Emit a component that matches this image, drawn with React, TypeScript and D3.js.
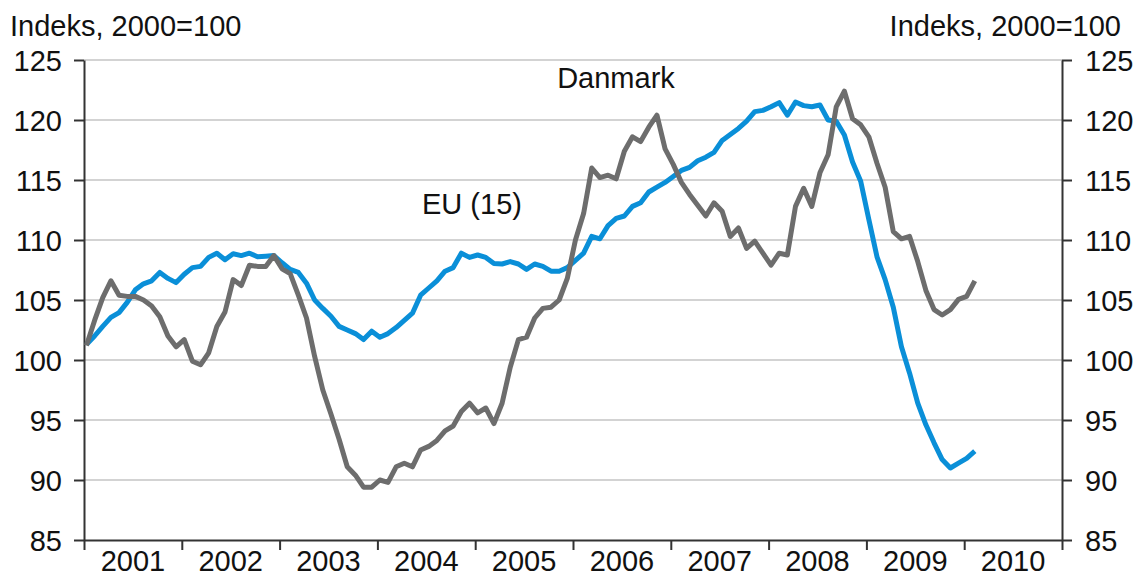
import React, { useEffect, useRef } from "react";
import * as d3 from "d3";

// Monthly index values, Jan 2001 - Feb 2010 (2000=100)
const danmark: number[] = [
    101.2, 103.3, 105.2, 106.6, 105.4, 105.3, 105.3, 105.0, 104.5, 103.6, 102.0, 101.1,
    101.7, 99.9, 99.6, 100.6, 102.8, 104.0, 106.7, 106.2, 107.9, 107.8, 107.8, 108.7,
    107.6, 107.2, 105.4, 103.5, 100.3, 97.5, 95.5, 93.4, 91.1, 90.4, 89.4, 89.4,
    90.0, 89.8, 91.1, 91.4, 91.1, 92.5, 92.8, 93.3, 94.1, 94.5, 95.7, 96.4,
    95.6, 96.0, 94.7, 96.4, 99.4, 101.7, 101.9, 103.5, 104.3, 104.4, 105.0, 106.8,
    110.0, 112.2, 116.0, 115.2, 115.4, 115.1, 117.4, 118.6, 118.2, 119.4, 120.4, 117.6,
    116.3, 114.8, 113.8, 112.9, 112.0, 113.1, 112.4, 110.3, 111.0, 109.3, 109.9, 108.9,
    107.9, 108.9, 108.75, 112.8, 114.3, 112.8, 115.6, 117.1, 121.1, 122.4, 120.1, 119.6,
    118.6, 116.4, 114.4, 110.7, 110.1, 110.3, 108.2, 105.8, 104.2, 103.75, 104.2, 105.05,
    105.3, 106.6,
];

const eu15: number[] = [
    101.3, 102.0, 102.8, 103.55, 103.95, 104.8, 105.85, 106.35, 106.6, 107.3, 106.8, 106.45,
    107.15, 107.7, 107.8, 108.55, 108.9, 108.35, 108.85, 108.7, 108.9, 108.6, 108.65, 108.7,
    108.1, 107.55, 107.3, 106.4, 105.0, 104.3, 103.65, 102.8, 102.5, 102.2, 101.7, 102.4,
    101.9, 102.2, 102.7, 103.3, 103.9, 105.4, 106.0, 106.6, 107.4, 107.7, 108.9, 108.55,
    108.75, 108.55, 108.05, 108.0, 108.2, 108.0, 107.55, 108.0, 107.8, 107.4, 107.4, 107.7,
    108.3, 108.9, 110.3, 110.1, 111.2, 111.8, 112.0, 112.8, 113.1, 114.0, 114.4, 114.8,
    115.3, 115.8, 116.05, 116.6, 116.9, 117.3, 118.3, 118.8, 119.3, 119.9, 120.7, 120.8,
    121.1, 121.45, 120.4, 121.5, 121.2, 121.1, 121.25, 120.0, 119.9, 118.75, 116.5, 114.9,
    111.7, 108.6, 106.7, 104.4, 101.1, 98.9, 96.4, 94.6, 93.1, 91.7, 91.0, 91.4,
    91.8, 92.4,
];

const years = ["2001", "2002", "2003", "2004", "2005", "2006", "2007", "2008", "2009", "2010"];
const yTicks = [85, 90, 95, 100, 105, 110, 115, 120, 125];

const App: React.FC = () => {
    const svgRef = useRef<SVGSVGElement>(null);
    const width = 1137;
    const height = 578;

    useEffect(() => {
        if (!svgRef.current) return;
        const svg = d3.select(svgRef.current);
        svg.selectAll("*").remove();

        const left = 84, right = 1062, top = 60, bottom = 540;
        const font = "'Liberation Sans', Arial, sans-serif";
        const fs = "29px";

        const x = d3.scaleLinear().domain([0, years.length * 12]).range([left, right]);
        const y = d3.scaleLinear().domain([85, 125]).range([bottom, top]);
        const shift = 0.3; // month marker position inside its slot

        // gridlines
        svg.append("g")
            .selectAll("line")
            .data(yTicks.filter(t => t > 85))
            .join("line")
            .attr("x1", left)
            .attr("x2", right)
            .attr("y1", d => y(d))
            .attr("y2", d => y(d))
            .attr("stroke", "#c4c4c4")
            .attr("stroke-width", 1.5);

        // left axis
        const yLeft = svg.append("g")
            .attr("transform", `translate(${left},0)`)
            .call(d3.axisLeft(y).tickValues(yTicks).tickSize(10).tickSizeOuter(0).tickPadding(12));
        // right axis
        const yRight = svg.append("g")
            .attr("transform", `translate(${right},0)`)
            .call(d3.axisRight(y).tickValues(yTicks).tickSize(10).tickSizeOuter(0).tickPadding(13));

        [yLeft, yRight].forEach(ax => {
            ax.select(".domain").attr("stroke", "#333").attr("stroke-width", 2);
            ax.selectAll(".tick line").attr("stroke", "#333").attr("stroke-width", 2);
            ax.selectAll("text")
                .attr("fill", "#111")
                .attr("dy", "0.36em")
                .style("font-family", font)
                .style("font-size", fs);
        });

        // bottom axis
        const xAxis = svg.append("g")
            .attr("transform", `translate(0,${bottom})`)
            .call(d3.axisBottom(x).tickValues(d3.range(0, years.length * 12 + 1, 12)).tickSize(10).tickSizeOuter(0).tickFormat(() => ""));
        xAxis.select(".domain").attr("stroke", "#333").attr("stroke-width", 2);
        xAxis.selectAll(".tick line").attr("stroke", "#333").attr("stroke-width", 2);

        svg.append("g")
            .selectAll("text")
            .data(years)
            .join("text")
            .attr("x", (_, i) => x(i * 12 + 6))
            .attr("y", 571)
            .attr("text-anchor", "middle")
            .attr("fill", "#111")
            .style("font-family", font)
            .style("font-size", fs)
            .text(d => d);

        const line = d3.line<number>()
            .x((_, i) => x(i + shift))
            .y(d => y(d));

        svg.append("path")
            .datum(eu15)
            .attr("fill", "none")
            .attr("stroke", "#0a8fd8")
            .attr("stroke-width", 5)
            .attr("stroke-linejoin", "round")
            .attr("d", line);

        svg.append("path")
            .datum(danmark)
            .attr("fill", "none")
            .attr("stroke", "#6d6d6d")
            .attr("stroke-width", 5)
            .attr("stroke-linejoin", "round")
            .attr("d", line);

        // titles and series labels
        const label = (tx: number, ty: number, anchor: string, txt: string) =>
            svg.append("text")
                .attr("x", tx)
                .attr("y", ty)
                .attr("text-anchor", anchor)
                .attr("fill", "#111")
                .style("font-family", font)
                .style("font-size", fs)
                .text(txt);

        label(10, 36, "start", "Indeks, 2000=100");
        label(1121, 36, "end", "Indeks, 2000=100");
        label(616, 88, "middle", "Danmark");
        label(472, 214, "middle", "EU (15)");
    }, []);

    return (
        <div style={{ position: "fixed", left: 0, top: 0, background: "#fff" }}>
            <svg ref={svgRef} width={width} height={height}></svg>
        </div>
    );
};

export default App;
